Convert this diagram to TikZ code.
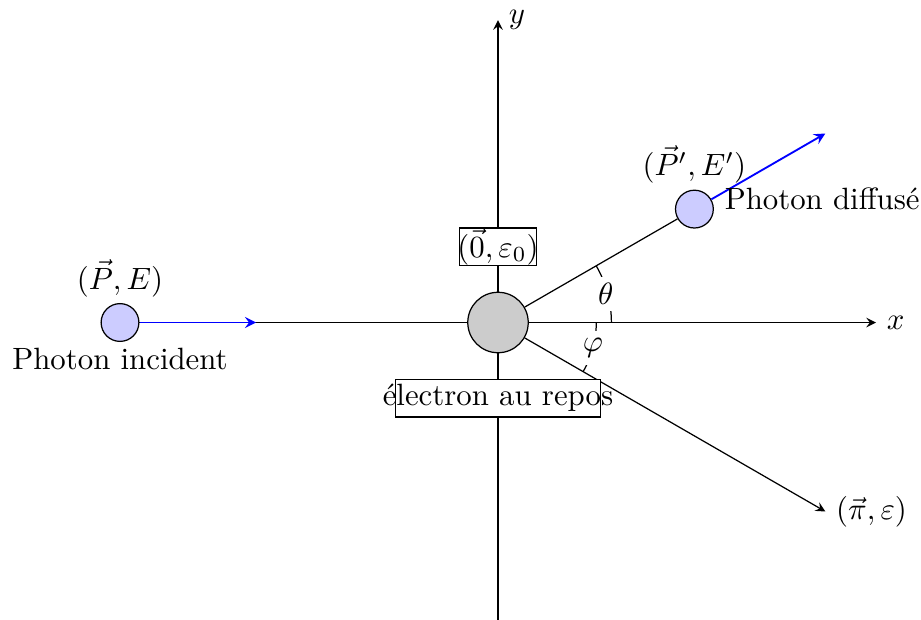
\documentclass[tikz,border=0pt]{standalone}
\begin{document}
\begin{tikzpicture}[x=0.4313cm,y=0.4313cm,>=stealth]
\tikzset{
  photon/.style={circle,draw,fill=blue!20,minimum size=12.27pt,inner sep=0pt},
  electron/.style={circle,draw,fill=gray!40,minimum size=19.63pt,inner sep=0pt},
  labelbox/.style={draw,fill=white,inner sep=0pt,minimum height=12.27pt},
  beam/.style={blue,semithick,->},
  angletext/.style={fill=white,inner sep=2pt},
  near/.style={inner sep=1.8pt}
}
\useasboundingbox (-13.175,-7.870) rectangle (11.19,8.532);
% coordinates
\coordinate (xl) at (-10,0);
\coordinate (xr) at (10,0);
\coordinate (yb) at (0,-8);
\coordinate (yt) at (0,8);
\coordinate (pin) at (-6.4,0);
\coordinate (pout) at (30:10);
\coordinate (eout) at (-30:10);
% angles
\draw (3,0) arc[start angle=0,end angle=30,radius=3];
\node[angletext] (th) at (15:2.95) {$\theta$};
\draw (2.6,0) arc[start angle=0,end angle=-30,radius=2.6];
\node[angletext,inner sep=2.4pt] (ph) at (-15:2.6) {$\varphi$};
% axes
\draw[->] (xl) -- (xr);
\draw[->] (yb) -- (yt);
\node[right] (xlab) at (xr) {$x$};
\node[right] (ylab) at (yt) {$y$};
% particles
\node[electron] (O) at (0,0) {};
\node[photon] (Pi) at (-10,0) {};
\node[photon] (Pd) at (30:6) {};
\draw (O) -- (Pd);
\draw[->] (O) -- (eout);
\node[right] (elab) at (eout) {$(\vec{\pi},\varepsilon)$};
% boxes
\node[labelbox,minimum width=25pt] (b0) at (0,2) {\makebox[0pt]{$(\vec{0},\varepsilon_0)$}};
\node[labelbox,minimum width=66.5pt] (be) at (0,-2) {\makebox[0pt]{électron au repos}};
% beams
\draw[beam] (Pi) -- (pin);
\draw[beam] (Pd) -- (pout);
% photon labels
\node[above,near] (Pilab) at (Pi.north) {$(\vec{P},E)$};
\node[below,near] (Pitxt) at (Pi.south) {Photon incident};
\node[above,near] (Pdlab) at (Pd.north) {$(\vec{P}',E')$};
\node[anchor=base west] (Pdtxt) at (Pd.east) {Photon diffusé};
\end{tikzpicture}
\end{document}
